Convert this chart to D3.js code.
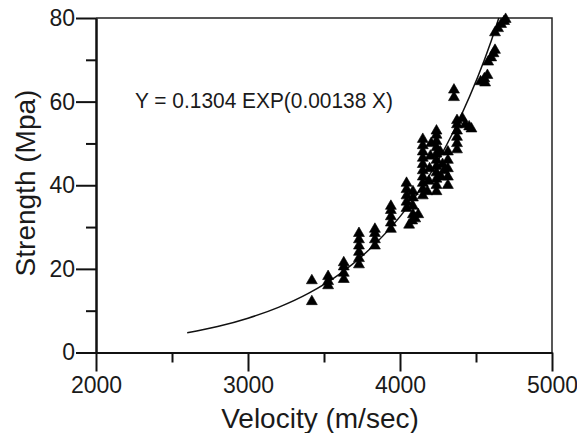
<!DOCTYPE html>
<html><head><meta charset="utf-8">
<script src="https://cdn.jsdelivr.net/npm/d3@7"></script>
<style>
html,body{margin:0;padding:0;background:#fff;}
svg{display:block;}
text{font-family:"Liberation Sans",Arial,sans-serif;fill:#1a1a1a;}
</style></head>
<body>
<svg id="c" width="577" height="433"></svg>
<script>
// ---- data ----
const velocity = [
  3420,3420,
  3527,3527,3527,
  3630,3630,3630,3630,
  3730,3730,3730,3730,3730,3730,
  3835,3835,3835,3835,
  3940,3940,3940,3940,3940,
  4060,4080,4100,4120,
  4043,4043,4043,4043,4043,
  4085,4085,4085,4085,
  4150,4150,4150,4150,4150,4150,4150,4150,4150,4150,
  4190,4195,4200,4180,4205,
  4240,4240,4240,4240,4240,4240,4240,4240,4240,4240,4240,
  4270,4280,4265,4290,
  4315,4315,4315,4315,4315,
  4375,4375,4375,4375,4375,4375,
  4355,4355,
  4410,4430,4455,4470,
  4530,4555,4575,4560,
  4580,4600,4615,4625,
  4625,4645,4665,4685,4695
];
const strength = [
  17.2,12.2,
  16,17,18.2,
  17.5,19,20.5,21.5,
  21,22.5,24,25.5,27,28.5,
  25.5,27,28.5,29.5,
  29.5,31,32.5,34,35,
  30.5,31.5,32,33,
  34.5,36,37.5,39,40.5,
  33,35,37,38.5,
  37.5,39,40.5,42,43.5,45,46.5,48,49.5,51,
  41,44,47,38.5,50,
  38.5,40,41.5,43,44.5,46,47.5,49,50.5,52,53,
  42,45,48,43.5,
  40,42,44,46,48,
  48.5,50,51.5,53,54.5,55.5,
  61,62.8,
  56,54.5,54,53.5,
  64.8,65.5,66.3,64.5,
  69.5,70.5,71.5,72.3,
  76.5,77.5,78.5,79.2,79.7
];
// fitted curve, values
const fitVelocity = [2600,2800,3000,3200,3400,3600,3800,4000,4200,4400,4600,4650];
const fitStrength = [4.7,6.2,8.2,10.8,14.2,18.7,24.7,32.5,42.8,56.5,74.5,80];

const xMajor = [2000,3000,4000,5000];
const xMinor = [2500,3500,4500];
const yMajor = [0,20,40,60,80];
const yMinor = [10,30,50,70];
const xTitle = "Velocity (m/sec)";
const yTitle = "Strength (Mpa)";
const equation = "Y = 0.1304 EXP(0.00138 X)";

// ---- drawing ----
const svg = d3.select("#c");
const L = 96, R = 552, T = 18, B = 352.5;
const x = d3.scaleLinear().domain([2000,5000]).range([L,R]);
const y = d3.scaleLinear().domain([0,80]).range([B,T]);

svg.append("rect").attr("width",577).attr("height",433).attr("fill","#fff");

// frame (top & right)
svg.append("path")
  .attr("d",`M${x(2000)},${y(80)}H${x(5000)}V${y(0)}`)
  .attr("fill","none").attr("stroke","#222").attr("stroke-width",1.5);

// curve
const line = d3.line().x((d,i)=>x(fitVelocity[i])).y((d,i)=>y(fitStrength[i])).curve(d3.curveMonotoneX);
svg.append("path").datum(fitVelocity).attr("d",line)
  .attr("fill","none").attr("stroke","#111").attr("stroke-width",1.5);

// points
const tri = d3.symbol().type(d3.symbolTriangle).size(52);
svg.append("g").selectAll("path").data(velocity).join("path")
  .attr("d",tri)
  .attr("transform",(d,i)=>`translate(${x(d)},${y(strength[i])})`)
  .attr("fill","#000").attr("stroke","#000").attr("stroke-width",0.6).attr("stroke-linejoin","round");

// axes
function style(g){
  g.selectAll(".domain").attr("stroke","#111").attr("stroke-width",2);
  g.selectAll(".tick line").attr("stroke","#111").attr("stroke-width",2);
  g.selectAll("text").attr("font-size",23).attr("fill","#1a1a1a")
    .attr("font-family","'Liberation Sans',Arial,sans-serif");
}
svg.append("g").attr("transform",`translate(0,${B})`)
  .call(d3.axisBottom(x).tickValues(xMajor).tickSize(19).tickSizeOuter(0).tickPadding(5).tickFormat(d3.format("d")))
  .call(style);
svg.append("g").attr("transform",`translate(0,${B})`)
  .call(d3.axisBottom(x).tickValues(xMinor).tickSize(10).tickSizeOuter(0).tickFormat(""))
  .call(style);
svg.append("g").attr("transform",`translate(${L},0)`)
  .call(d3.axisLeft(y).tickValues(yMajor).tickSize(20).tickSizeOuter(0).tickPadding(1))
  .call(style);
svg.append("g").attr("transform",`translate(${L},0)`)
  .call(d3.axisLeft(y).tickValues(yMinor).tickSize(10).tickSizeOuter(0).tickFormat(""))
  .call(style);

// titles
svg.append("text").attr("x",320).attr("y",428).attr("text-anchor","middle")
  .attr("font-size",28).text(xTitle);
svg.append("text").attr("transform","translate(35,183) rotate(-90)").attr("text-anchor","middle")
  .attr("font-size",28).text(yTitle);
svg.append("text").attr("x",135).attr("y",108)
  .attr("font-size",22).attr("textLength",258).attr("lengthAdjust","spacingAndGlyphs")
  .text(equation);
</script>
</body></html>
